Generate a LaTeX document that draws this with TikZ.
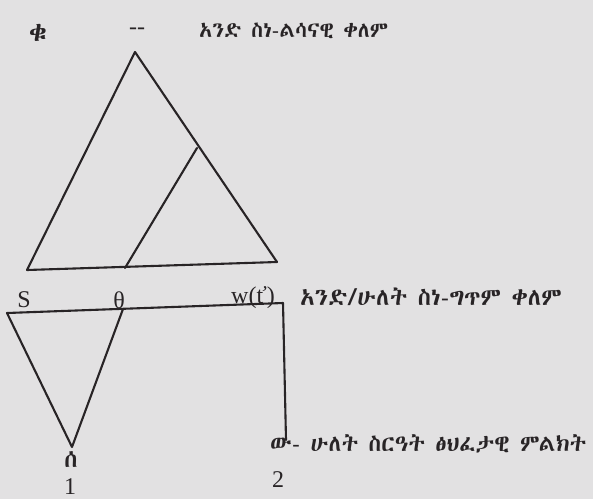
\documentclass[tikz,border=0pt]{standalone}
\usepackage{fontspec}
\setmainfont{Liberation Serif}
\def\ethname{DejaVu Sans}
\IfFontExistsTF{Abyssinica SIL}
  {\def\ethname{Abyssinica SIL}}
  {\IfFontExistsTF{FreeSerif}{\def\ethname{FreeSerif}}{}}
\newfontfamily\ethfont{\ethname}
\definecolor{paper}{RGB}{226,225,226}
\definecolor{ink}{RGB}{40,36,38}
\tikzset{
  eth/.style={inner sep=0pt, text=ink, font=\ethfont\fontsize{#1}{#1}\selectfont},
  eth/.default=22,
  lat/.style={inner sep=0pt, text=ink, font=\fontsize{24}{26}\selectfont},
  edge/.style={draw=ink, line width=2.1pt, line cap=round, line join=round}
}
\begin{document}
\begin{tikzpicture}[x=1pt,y=-1pt]
\useasboundingbox (0,0) rectangle (593,499);
\fill[paper] (0,0) rectangle (593,499);
% upper triangle
\coordinate (A) at (135,52);
\coordinate (B) at (27,270);
\coordinate (C) at (277,262);
\coordinate (D) at (125,268);
\coordinate (E) at (197,148);
\draw[edge] (A) -- (B) -- (C) -- cycle;
\draw[edge] (D) -- (E);
% lower figure
\coordinate (P) at (7,313);
\coordinate (T) at (123,309);
\coordinate (Q) at (283,303);
\coordinate (V) at (72,447);
\coordinate (R) at (286,440);
\draw[edge] (P) -- (Q) -- (R);
\draw[edge] (P) -- (V) -- (T);
% texts
\node[eth=26] (qu) at (38,33) {ቁ};
\node[lat] (dash) at (137,31) {-{}-};
\node[eth=21.5, anchor=west] (t1) at (199,31) {አንድ ስነ-ልሳናዊ ቀለም};
\node[lat] (S) at (24,300) {S};
\node[lat] (th) at (119,300) {θ};
\node[lat] (w) at (253,298) {w(ť)};
\node[eth=24, anchor=west] (t2) at (300,297) {አንድ/ሁለት ስነ-ግጥም ቀለም};
\node[eth=24] (se) at (71,460) {ሰ};
\node[lat] (n1) at (70,487) {1};
\node[lat] (n2) at (278,480) {2};
\node[eth=23, anchor=west] (t3) at (270,444) {ው- ሁለት ስርዓት ፅህፈታዊ ምልክት};
\end{tikzpicture}
\end{document}
